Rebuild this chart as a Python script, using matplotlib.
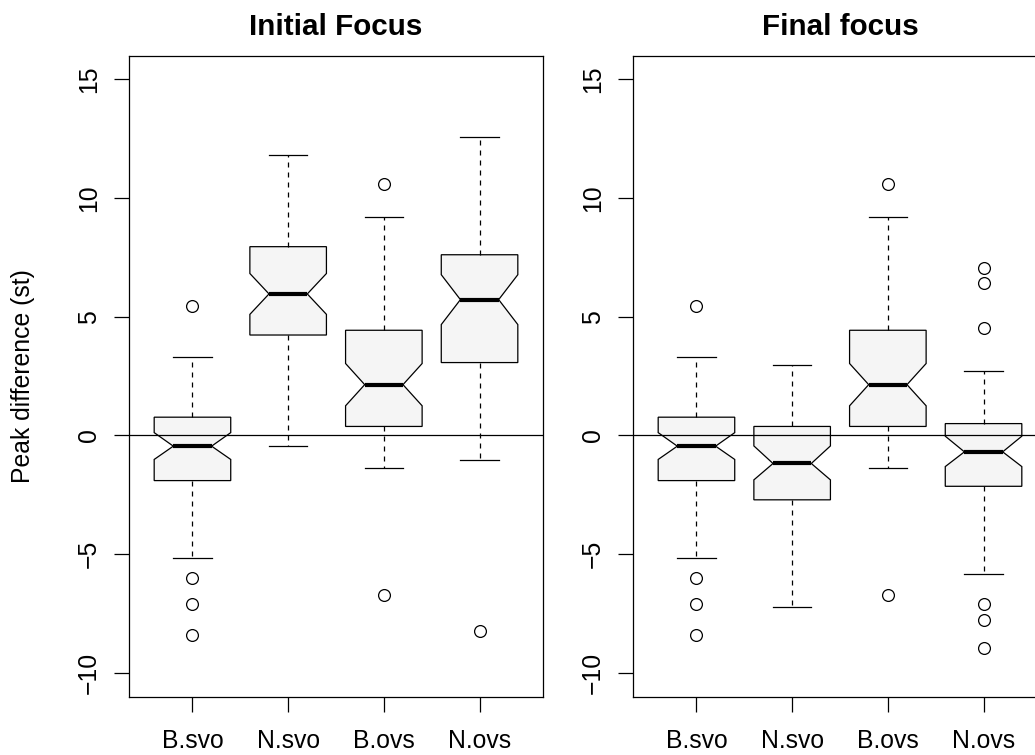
import matplotlib
matplotlib.use("Agg")
import matplotlib.pyplot as plt

plt.rcParams['font.family'] = ['Liberation Sans', 'DejaVu Sans']

groups = ['B.svo', 'N.svo', 'B.ovs', 'N.ovs']

# Initial focus panel
init_whislo = [-5.15, -0.46, -1.37, -1.04]
init_q1 = [-1.90, 4.23, 0.38, 3.07]
init_med = [-0.45, 5.96, 2.14, 5.72]
init_q3 = [0.77, 7.95, 4.43, 7.61]
init_whishi = [3.30, 11.80, 9.22, 12.56]
init_cilo = [-1.01, 5.10, 1.25, 4.67]
init_cihi = [0.12, 6.82, 3.03, 6.77]
init_fliers = [[5.46, -6.02, -7.11, -8.40], [], [10.60, -6.70], [-8.22]]

# Final focus panel
final_whislo = [-5.15, -7.24, -1.37, -5.83]
final_q1 = [-1.90, -2.71, 0.38, -2.14]
final_med = [-0.45, -1.18, 2.14, -0.69]
final_q3 = [0.77, 0.38, 4.43, 0.50]
final_whishi = [3.30, 2.98, 9.22, 2.71]
final_cilo = [-1.01, -1.87, 1.25, -1.31]
final_cihi = [0.12, -0.44, 3.03, -0.03]
final_fliers = [[5.46, -6.02, -7.11, -8.40], [], [10.60, -6.70],
                [7.05, 6.40, 4.53, -7.11, -7.75, -8.93]]

yticks = [-10, -5, 0, 5, 10, 15]


def make_stats(whislo, q1, med, q3, whishi, cilo, cihi, fliers):
    stats = []
    for i, g in enumerate(groups):
        stats.append({'label': g, 'whislo': whislo[i], 'q1': q1[i], 'med': med[i],
                      'q3': q3[i], 'whishi': whishi[i], 'cilo': cilo[i],
                      'cihi': cihi[i], 'fliers': fliers[i]})
    return stats


W, H = 1035, 755
fig = plt.figure(figsize=(W / 100, H / 100), dpi=100)

lw = 0.9
fs = 17.8


def draw_panel(rect, stats, title):
    ax = fig.add_axes(rect)
    ax.bxp(stats, shownotches=True, widths=0.8, patch_artist=True,
           boxprops=dict(facecolor='#f5f5f5', edgecolor='black', linewidth=lw),
           whiskerprops=dict(color='black', linewidth=lw, linestyle=(0, (4, 4))),
           capprops=dict(color='black', linewidth=lw),
           medianprops=dict(color='black', linewidth=3, solid_capstyle='butt'),
           flierprops=dict(marker='o', markerfacecolor='none', markeredgecolor='black',
                           markersize=8.5, markeredgewidth=lw, linestyle='none'))
    ax.axhline(0, color='black', linewidth=lw, zorder=5)
    ax.set_xlim(0.34, 4.66)
    ax.set_ylim(-11, 16)
    ax.set_yticks(yticks)
    ax.set_xticks(range(1, 5))
    ax.set_xticklabels(groups)
    ax.tick_params(direction='out', length=10.8, width=lw, labelsize=fs)
    ax.tick_params(axis='x', pad=12.5)
    ax.tick_params(axis='y', pad=9.5)
    for lab in ax.get_yticklabels():
        lab.set_rotation(90)
        lab.set_va('center')
    for sp in ax.spines.values():
        sp.set_linewidth(lw)
    ax.set_title(title, fontsize=21.3, fontweight='bold', pad=14.8)
    return ax


bottom = (H - 696.7) / H
height = (696.7 - 55.5) / H
width = 413.4 / W

draw_panel([129.3 / W, bottom, width, height],
           make_stats(init_whislo, init_q1, init_med, init_q3, init_whishi,
                      init_cilo, init_cihi, init_fliers), 'Initial Focus')
draw_panel([633.3 / W, bottom, width, height],
           make_stats(final_whislo, final_q1, final_med, final_q3, final_whishi,
                      final_cilo, final_cihi, final_fliers), 'Final focus')

fig.text(23.5 / W, 1 - 376 / H, 'Peak difference (st)', rotation=90,
         ha='center', va='center', fontsize=fs)

fig.savefig('out.png', dpi=100)
